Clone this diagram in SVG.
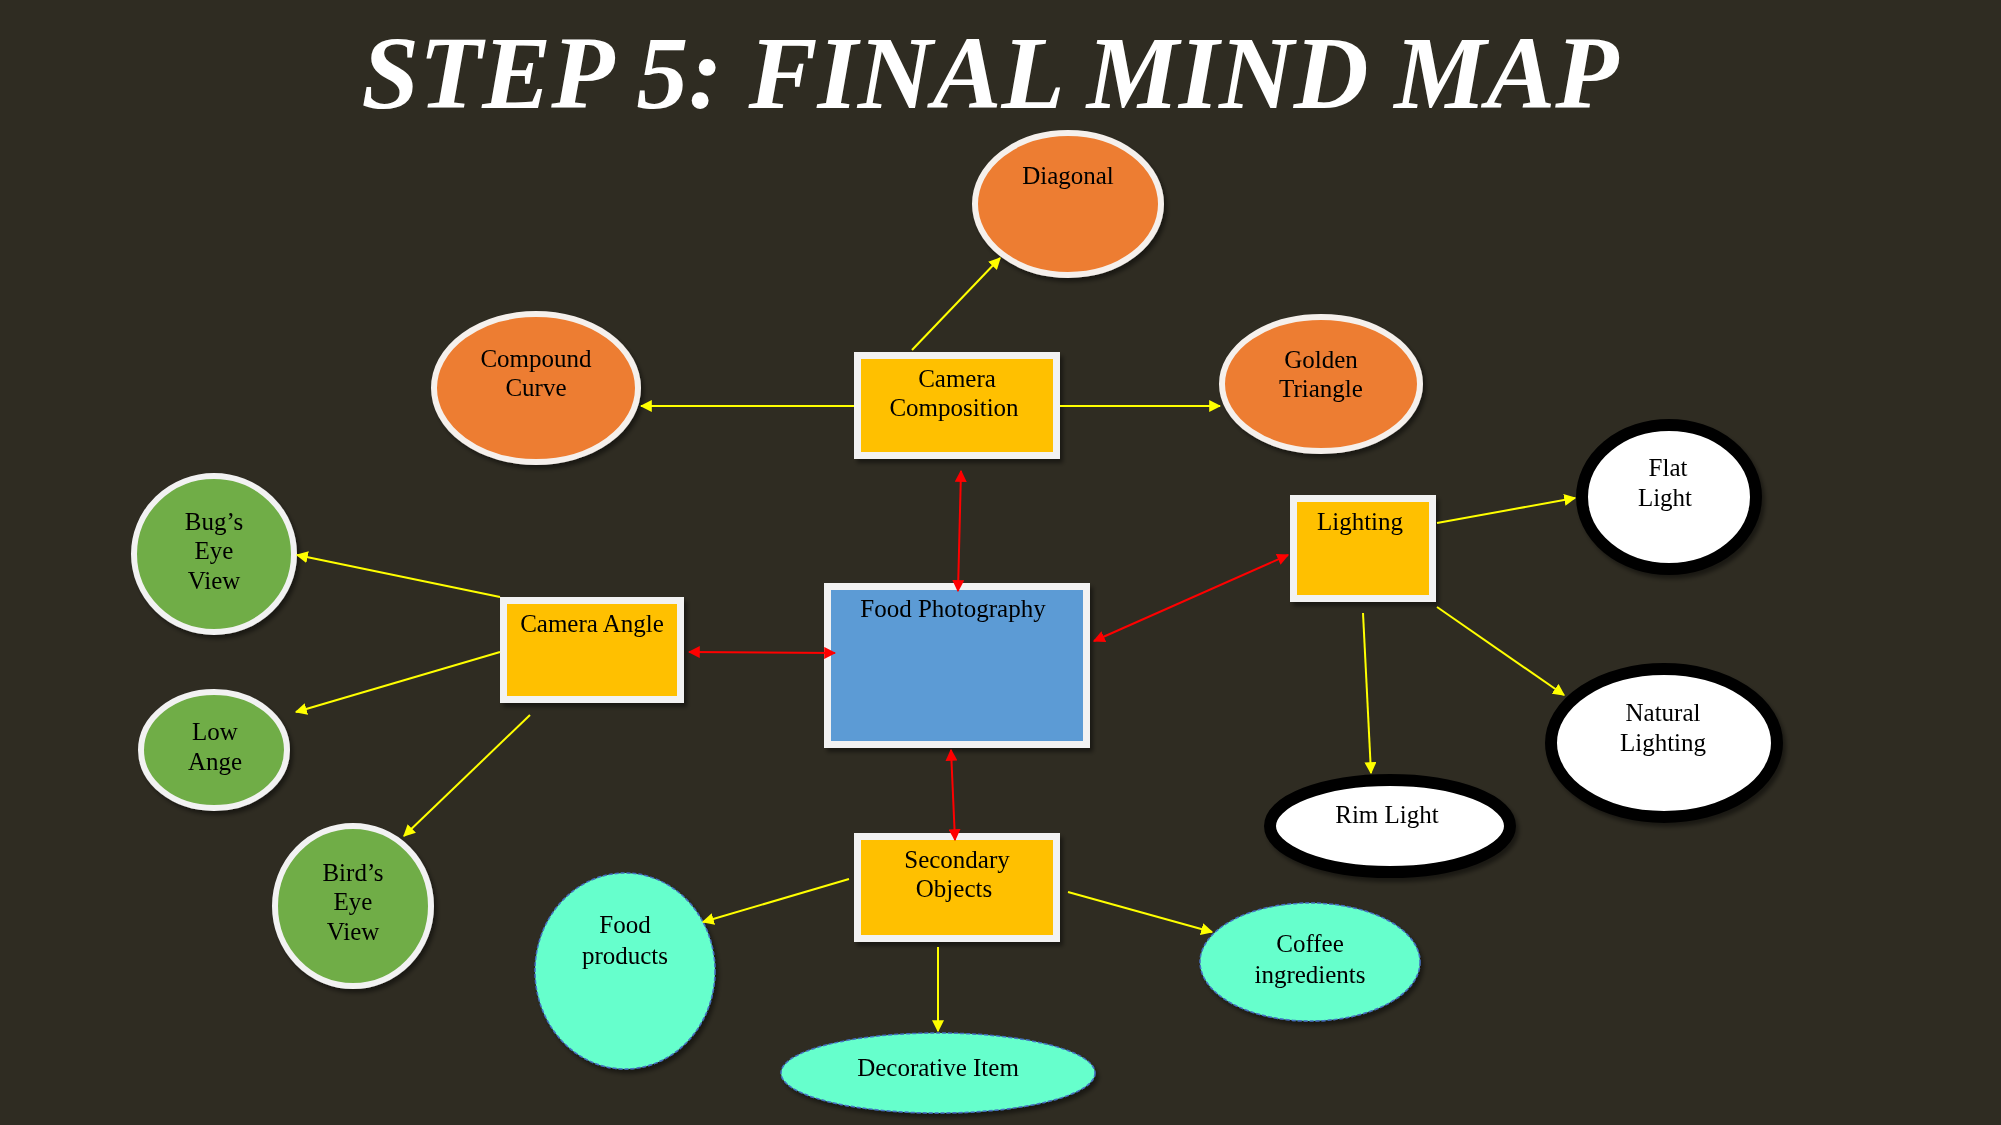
<svg xmlns="http://www.w3.org/2000/svg" width="2001" height="1125" viewBox="0 0 2001 1125">
<defs>
<style>
.t{font-family:"Liberation Serif","Times New Roman",serif;font-size:25px;fill:#000;text-anchor:middle}
.box{fill:#ffc000;stroke:#f2f2f2;stroke-width:7}
.orange{fill:#ed7d31;stroke:#f5f0ec;stroke-width:6}
.green{fill:#70ad47;stroke:#f2f2f2;stroke-width:6}
.white{fill:#fff;stroke:#000;stroke-width:12}
.cyan{fill:#66ffcc;stroke:#4472c4;stroke-width:1.5;stroke-dasharray:4 2}
.y{stroke:#ffff00;stroke-width:2;fill:none;marker-end:url(#ya)}
.r{stroke:#ff0000;stroke-width:2;fill:none;marker-end:url(#ra);marker-start:url(#ra)}
</style>
<marker id="ya" viewBox="0 0 10 10" refX="9" refY="5" markerWidth="6" markerHeight="6" orient="auto-start-reverse"><path d="M0,0L10,5L0,10z" fill="#ffff00"/></marker>
<marker id="ra" viewBox="0 0 10 10" refX="9" refY="5" markerWidth="6" markerHeight="6" orient="auto-start-reverse"><path d="M0,0L10,5L0,10z" fill="#ff0000"/></marker>
<filter id="sh" x="-20%" y="-20%" width="140%" height="140%"><feDropShadow dx="3" dy="4" stdDeviation="2" flood-color="#000" flood-opacity="0.45"/></filter>
</defs>
<rect width="2001" height="1125" fill="#2f2c22"/>
<text x="990" y="108" font-family="Liberation Serif,'Times New Roman',serif" font-size="104" font-weight="bold" font-style="italic" fill="#fff" text-anchor="middle" textLength="1257" lengthAdjust="spacingAndGlyphs">STEP 5: FINAL MIND MAP</text>

<g id="diagonal" filter="url(#sh)"><ellipse class="orange" cx="1068" cy="204" rx="93" ry="71"/><text class="t" x="1068" y="184">Diagonal</text></g>
<g id="compound-curve" filter="url(#sh)"><ellipse class="orange" cx="536" cy="388" rx="102" ry="74"/><text class="t" x="536" y="367">Compound</text><text class="t" x="536" y="396">Curve</text></g>
<g id="camera-composition" filter="url(#sh)"><rect class="box" x="857.5" y="355.5" width="199" height="100"/><text class="t" x="957" y="387">Camera</text><text class="t" x="954" y="416">Composition</text></g>
<g id="golden-triangle" filter="url(#sh)"><ellipse class="orange" cx="1321" cy="384" rx="99" ry="67"/><text class="t" x="1321" y="368">Golden</text><text class="t" x="1321" y="397">Triangle</text></g>

<g id="lighting" filter="url(#sh)"><rect class="box" x="1293.5" y="498.5" width="139" height="100"/><text class="t" x="1360" y="530">Lighting</text></g>
<g id="flat-light" filter="url(#sh)"><ellipse class="white" cx="1669" cy="497" rx="87" ry="72"/><text class="t" x="1668" y="476">Flat</text><text class="t" x="1665" y="506">Light</text></g>
<g id="natural-lighting" filter="url(#sh)"><ellipse class="white" cx="1664" cy="743" rx="113" ry="74"/><text class="t" x="1663" y="721">Natural</text><text class="t" x="1663" y="751">Lighting</text></g>
<g id="rim-light" filter="url(#sh)"><ellipse class="white" cx="1390" cy="826" rx="120" ry="46"/><text class="t" x="1387" y="823">Rim Light</text></g>

<g id="food-photography" filter="url(#sh)"><rect x="827.5" y="586.5" width="259" height="158" fill="#5b9bd5" stroke="#f2f2f2" stroke-width="7"/><text class="t" x="953" y="617">Food Photography</text></g>

<g id="camera-angle" filter="url(#sh)"><rect class="box" x="503.5" y="600.5" width="177" height="99"/><text class="t" x="592" y="632">Camera Angle</text></g>
<g id="bugs-eye-view" filter="url(#sh)"><ellipse class="green" cx="214" cy="554" rx="80" ry="78"/><text class="t" x="214" y="530">Bug’s</text><text class="t" x="214" y="559">Eye</text><text class="t" x="214" y="589">View</text></g>
<g id="low-ange" filter="url(#sh)"><ellipse class="green" cx="214" cy="750" rx="73" ry="58"/><text class="t" x="215" y="740">Low</text><text class="t" x="215" y="770">Ange</text></g>
<g id="birds-eye-view" filter="url(#sh)"><ellipse class="green" cx="353" cy="906" rx="78" ry="80"/><text class="t" x="353" y="881">Bird’s</text><text class="t" x="353" y="910">Eye</text><text class="t" x="353" y="940">View</text></g>

<g id="secondary-objects" filter="url(#sh)"><rect class="box" x="857.5" y="836.5" width="199" height="102"/><text class="t" x="957" y="868">Secondary</text><text class="t" x="954" y="897">Objects</text></g>
<g id="food-products" filter="url(#sh)"><ellipse class="cyan" cx="625" cy="971" rx="90" ry="98"/><text class="t" x="625" y="933">Food</text><text class="t" x="625" y="964">products</text></g>
<g id="decorative-item" filter="url(#sh)"><ellipse class="cyan" cx="938" cy="1073" rx="157" ry="40"/><text class="t" x="938" y="1076">Decorative Item</text></g>
<g id="coffee-ingredients" filter="url(#sh)"><ellipse class="cyan" cx="1310" cy="962" rx="110" ry="59"/><text class="t" x="1310" y="952">Coffee</text><text class="t" x="1310" y="983">ingredients</text></g>

<g id="connectors">
<line class="y" x1="912" y1="350" x2="1000" y2="258"/>
<line class="y" x1="854" y1="406" x2="641" y2="406"/>
<line class="y" x1="1060" y1="406" x2="1220" y2="406"/>
<line class="y" x1="1437" y1="523" x2="1575" y2="498"/>
<line class="y" x1="1437" y1="607" x2="1564" y2="695"/>
<line class="y" x1="1363" y1="613" x2="1371" y2="773"/>
<line class="y" x1="500" y1="597" x2="297" y2="555"/>
<line class="y" x1="500" y1="652" x2="296" y2="712"/>
<line class="y" x1="530" y1="715" x2="404" y2="836"/>
<line class="y" x1="849" y1="879" x2="703" y2="922"/>
<line class="y" x1="938" y1="947" x2="938" y2="1031"/>
<line class="y" x1="1068" y1="892" x2="1212" y2="932"/>
<line class="r" x1="961" y1="471" x2="958" y2="591"/>
<line class="r" x1="689" y1="652" x2="835" y2="653" stroke-width="2.5"/>
<line class="r" x1="1094" y1="641" x2="1288" y2="555"/>
<line class="r" x1="951" y1="750" x2="955" y2="840"/>
</g>
</svg>
